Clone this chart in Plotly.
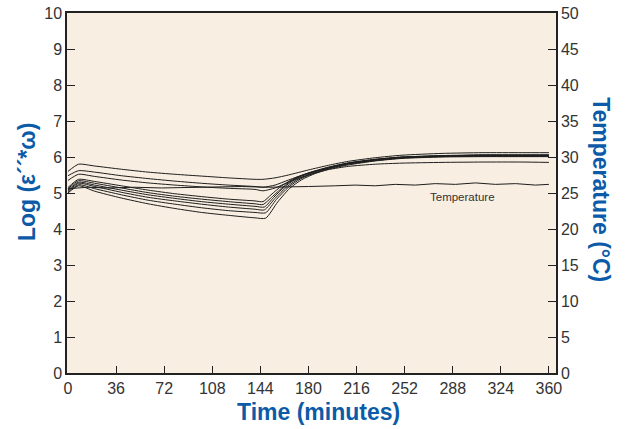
import plotly.graph_objects as go

# Time points (minutes) per curve and Log(e''*w) values
t_a = [0, 8, 20, 40, 60, 80, 100, 120, 140, 146, 155, 165, 180, 195, 210, 230, 250, 280, 310, 340, 360]
curve1 = [5.60, 5.80, 5.75, 5.66, 5.58, 5.52, 5.47, 5.42, 5.38, 5.38, 5.42, 5.50, 5.64, 5.77, 5.88, 5.98, 6.05, 6.10, 6.12, 6.12, 6.12]
curve2 = [5.48, 5.62, 5.58, 5.48, 5.40, 5.33, 5.27, 5.22, 5.18, 5.16, 5.22, 5.36, 5.55, 5.70, 5.82, 5.92, 5.98, 6.03, 6.05, 6.05, 6.05]
curve3 = [5.35, 5.52, 5.46, 5.36, 5.28, 5.22, 5.17, 5.13, 5.10, 5.06, 5.14, 5.30, 5.50, 5.65, 5.74, 5.80, 5.83, 5.85, 5.86, 5.86, 5.85]

t_b = [0, 8, 20, 40, 60, 80, 100, 120, 140, 146, 152, 160, 170, 180, 195, 210, 230, 250, 280, 310, 340, 360]
curve4 = [5.15, 5.38, 5.32, 5.20, 5.08, 4.98, 4.90, 4.83, 4.78, 4.76, 4.95, 5.20, 5.42, 5.56, 5.72, 5.84, 5.94, 6.00, 6.04, 6.06, 6.06, 6.06]

t_c = [0, 8, 20, 40, 60, 80, 100, 120, 140, 146, 153, 162, 170, 180, 195, 210, 230, 250, 280, 310, 340, 360]
curve5 = [5.12, 5.34, 5.27, 5.14, 5.01, 4.91, 4.83, 4.76, 4.70, 4.68, 4.90, 5.20, 5.40, 5.55, 5.71, 5.83, 5.93, 6.00, 6.03, 6.05, 6.05, 6.05]

t_d = [0, 8, 20, 40, 60, 80, 100, 120, 140, 147, 154, 163, 172, 182, 195, 210, 230, 250, 280, 310, 340, 360]
curve6 = [5.08, 5.30, 5.22, 5.08, 4.95, 4.85, 4.76, 4.69, 4.63, 4.61, 4.88, 5.20, 5.42, 5.57, 5.70, 5.82, 5.92, 5.99, 6.03, 6.04, 6.04, 6.04]

t_e = [0, 8, 20, 40, 60, 80, 100, 120, 140, 147, 155, 164, 173, 183, 195, 210, 230, 250, 280, 310, 340, 360]
curve7 = [5.05, 5.27, 5.18, 5.02, 4.88, 4.78, 4.69, 4.61, 4.55, 4.53, 4.85, 5.18, 5.40, 5.56, 5.69, 5.81, 5.91, 5.98, 6.02, 6.03, 6.03, 6.03]

t_f = [0, 8, 20, 40, 60, 80, 100, 120, 140, 148, 156, 165, 174, 184, 195, 210, 230, 250, 280, 310, 340, 360]
curve8 = [5.02, 5.23, 5.12, 4.95, 4.80, 4.69, 4.59, 4.51, 4.46, 4.45, 4.82, 5.16, 5.39, 5.55, 5.68, 5.80, 5.90, 5.97, 6.01, 6.02, 6.02, 6.02]

t_g = [0, 8, 20, 40, 60, 80, 100, 120, 140, 148, 157, 166, 175, 185, 195, 210, 230, 250, 280, 310, 340, 360]
curve9 = [5.00, 5.20, 5.05, 4.86, 4.70, 4.57, 4.46, 4.38, 4.31, 4.30, 4.75, 5.13, 5.37, 5.54, 5.66, 5.78, 5.89, 5.96, 6.00, 6.01, 6.01, 6.01]

# Temperature (°C)
t_temp = [0, 15, 30, 50, 70, 90, 110, 130, 150, 165, 180, 200, 215, 230, 245, 260, 275, 290, 305, 320, 335, 350, 360]
temp = [25.6, 25.8, 25.7, 25.8, 25.7, 25.8, 25.8, 25.9, 25.8, 25.8, 25.9, 26.0, 26.1, 26.0, 26.2, 26.1, 26.3, 26.2, 26.4, 26.2, 26.3, 26.1, 26.2]

x_ticks = [0, 36, 72, 108, 144, 180, 216, 252, 288, 324, 360]

series = [(t_a, curve1), (t_a, curve2), (t_a, curve3), (t_b, curve4), (t_c, curve5),
          (t_d, curve6), (t_e, curve7), (t_f, curve8), (t_g, curve9)]

BLUE = "#0b5ba8"
TICKC = "#333333"
FONT = "Liberation Sans, Arial, sans-serif"

fig = go.Figure()
for tx, vy in series:
    fig.add_trace(go.Scatter(x=tx, y=vy, mode="lines",
                             line=dict(color="#1e1e1e", width=1, shape="spline", smoothing=0.6),
                             showlegend=False, hoverinfo="skip"))
fig.add_trace(go.Scatter(x=t_temp, y=temp, mode="lines", yaxis="y2",
                         line=dict(color="#1e1e1e", width=1),
                         showlegend=False, hoverinfo="skip"))

fig.update_layout(
    width=625, height=429,
    margin=dict(l=67, r=69, t=13, b=56, autoexpand=False),
    paper_bgcolor="white",
    plot_bgcolor="#f8efe2",
    font=dict(family=FONT, size=16, color=TICKC),
    xaxis=dict(range=[-0.7, 365.3], tickvals=x_ticks, ticks="inside", ticklen=7,
               tickcolor="#222", showgrid=False, zeroline=False, automargin=False,
               showline=True, linecolor="#222", linewidth=1.5, mirror=True,
               tickfont=dict(size=16, color=TICKC)),
    yaxis=dict(range=[0, 10], dtick=1, ticks="inside", ticklen=8, tickcolor="#222",
               showgrid=False, zeroline=False, showline=True, linecolor="#222",
               automargin=False, linewidth=1.5, tickfont=dict(size=16, color=TICKC)),
    yaxis2=dict(range=[0, 50], dtick=5, overlaying="y", side="right", ticks="inside",
                ticklen=8, tickcolor="#222", showgrid=False, zeroline=False,
                automargin=False, showline=True, linecolor="#222", linewidth=1.5,
                tickfont=dict(size=16, color=TICKC)),
    annotations=[
        dict(text="<b>Log (ε´´*ω)</b>", xref="paper", yref="paper", x=-0.082, y=0.53,
             xanchor="center", yanchor="middle",
             showarrow=False, textangle=-90, font=dict(size=23, color=BLUE, family=FONT)),
        dict(text="<b>Temperature (°C)</b>", xref="paper", yref="paper", x=1.092, y=0.508,
             xanchor="center", yanchor="middle",
             showarrow=False, textangle=90, font=dict(size=23, color=BLUE, family=FONT)),
        dict(text="<b>Time (minutes)</b>", xref="paper", yref="paper", x=0.515, y=-0.108,
             yanchor="middle", showarrow=False, font=dict(size=23, color=BLUE, family=FONT)),
        dict(text="Temperature", x=295, y=4.9, xref="x", yref="y", showarrow=False,
             font=dict(size=11.5, color=TICKC, family=FONT)),
    ],
)

fig.write_html("out.html")
